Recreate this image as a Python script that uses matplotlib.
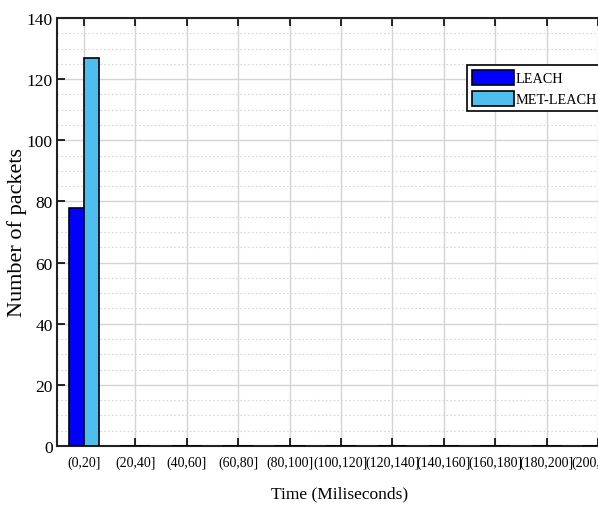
import matplotlib
matplotlib.use("Agg")
import matplotlib.pyplot as plt
import numpy as np
from matplotlib.ticker import MultipleLocator

categories = ["(0,20]", "(20,40]", "(40,60]", "(60,80]", "(80,100]", "(100,120]",
              "(120,140]", "(140,160]", "(160,180]", "(180,200]", "(200,220]"]
leach = [78, 0, 0, 0, 0, 0, 0, 0, 0, 0, 0]
met_leach = [127, 0, 0, 0, 0, 0, 0, 0, 0, 0, 0]

plt.rcParams['font.family'] = ['Liberation Serif', 'DejaVu Serif']

fig = plt.figure(figsize=(5.98, 5.06), dpi=100)
W, H = 598, 506
ax = fig.add_axes([57 / W, 59 / H, 568 / W, 428 / H])

x = np.arange(len(categories))
bw = 0.29
ax.bar(x - bw / 2, leach, width=bw, color='#0000ff', edgecolor='black', linewidth=1.2,
       label='LEACH', zorder=3)
ax.bar(x + bw / 2, met_leach, width=bw, color='#4dbeee', edgecolor='black', linewidth=1.2,
       label='MET-LEACH', zorder=3)

ax.set_xlim(-0.525, len(categories) - 1 + 0.525)
ax.set_ylim(0, 140)
ax.set_xticks(x)
ax.set_xticklabels(categories, fontsize=10)
ax.yaxis.set_major_locator(MultipleLocator(20))
ax.yaxis.set_minor_locator(MultipleLocator(5))
ax.tick_params(axis='y', labelsize=12.5, direction='in', length=6, width=1.2,
               left=True, right=True, pad=3)
ax.tick_params(axis='x', direction='in', length=6, width=1.2, top=True, bottom=True, pad=7)
ax.tick_params(axis='y', which='minor', left=False, right=False)

ax.grid(True, which='major', color='#d4d4d4', linewidth=1.0, linestyle='-', zorder=0)
ax.grid(True, which='minor', axis='y', color='#d6d6d6', linewidth=0.8,
        linestyle=(0, (1.5, 2)), zorder=0)
ax.set_axisbelow(True)
for s in ax.spines.values():
    s.set_linewidth(1.5)
    s.set_color('#222222')

ax.set_xlabel('Time (Miliseconds)', fontsize=12.5)
ax.xaxis.set_label_coords((340 - 57) / 568, -(494 - 447) / 428)
ax.xaxis.label.set_va('center')
ax.set_ylabel('Number of packets', fontsize=16)
ax.yaxis.set_label_coords(-(57 - 17) / 568, (447 - 233) / 428)
ax.yaxis.label.set_va('center')

leg = fig.legend(loc='upper left', bbox_to_anchor=(467 / W, 1 - 66 / H), fontsize=10.3,
                 frameon=True, fancybox=False, edgecolor='black', framealpha=1,
                 handlelength=2.95, handleheight=1.25, handletextpad=0.1,
                 labelspacing=0.4, borderpad=0.35, borderaxespad=0)
leg.get_frame().set_linewidth(1.2)

fig.savefig('out.png', dpi=100)
